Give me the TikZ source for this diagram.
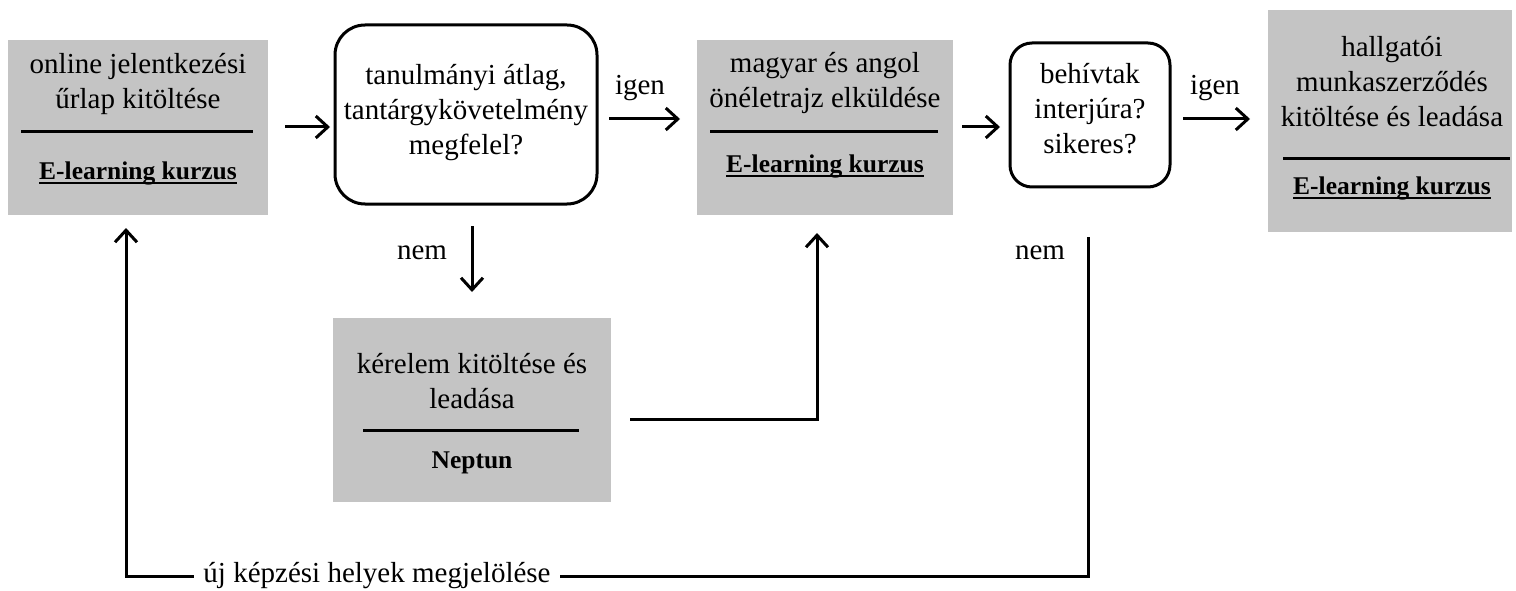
\documentclass[tikz,border=0pt]{standalone}
\usepackage{fontspec}
\setmainfont{Liberation Serif}
\usetikzlibrary{arrows.meta}
\definecolor{boxgray}{RGB}{196,196,196}
\newcommand\myul[1]{\setbox0\hbox{#1}\rlap{\rule[-5pt]{\wd0}{2pt}}\box0}
\begin{document}
\begin{tikzpicture}[x=1pt,y=-1pt,
  gbox/.style={fill=boxgray, inner sep=0pt, outer sep=0pt},
  rbox/.style={draw, line width=3pt, rounded corners=30pt, inner sep=0pt, outer sep=0pt},
  txt/.style={align=center, font=\fontsize{29}{35}\selectfont, inner sep=0pt},
  btxt/.style={align=center, font=\fontsize{25.5}{30}\selectfont\bfseries, inner sep=0pt},
  arr/.style={line width=3pt, -{Straight Barb[length=12pt,width=22pt,line width=3pt]}},
  sepline/.style={line width=3pt},
  ]
\useasboundingbox (0,0) rectangle (1516,591);
% boxes
\node[gbox, minimum width=260pt, minimum height=175pt] (b1) at (138,127.5) {};
\node[rbox, minimum width=262pt, minimum height=179pt] (b2) at (466,114.5) {};
\node[gbox, minimum width=256pt, minimum height=175pt] (b3) at (825,127.5) {};
\node[rbox, minimum width=160pt, minimum height=144pt, rounded corners=22pt] (b4) at (1090,115) {};
\node[gbox, minimum width=244pt, minimum height=222pt] (b5) at (1390,121) {};
\node[gbox, minimum width=278pt, minimum height=184pt] (b6) at (472,410) {};
% texts
\node[txt] (t1) at (138,84) {online jelentkezési\\űrlap kitöltése};
\draw[sepline] (21,132) -- (253,132);
\node[btxt] (e1) at (138,173) {\myul{E-learning kurzus}};
\node[txt] (t2) at (466,113) {tanulmányi átlag,\\tantárgykövetelmény\\megfelel?};
\node[txt] (t3) at (825,83) {magyar és angol\\önéletrajz elküldése};
\draw[sepline] (710,132) -- (938,132);
\node[btxt] (e3) at (825,166) {\myul{E-learning kurzus}};
\node[txt] (t4) at (1090,109) {behívtak\\interjúra?\\sikeres?};
\node[txt] (t5) at (1392,82) {hallgatói\\munkaszerződés\\kitöltése és leadása};
\draw[sepline] (1283,159) -- (1510,159);
\node[btxt] (e5) at (1392,188) {\myul{E-learning kurzus}};
\node[txt] (t6) at (472,381) {kérelem kitöltése és\\leadása};
\draw[sepline] (363,430) -- (579,430);
\node[btxt] (e6) at (472,463) {Neptun};
% labels
\node[txt] (igen1) at (640,88) {igen};
\node[txt] (igen2) at (1215,88) {igen};
\node[txt] (nem1) at (422,253) {nem};
\node[txt] (nem2) at (1040,253) {nem};
% connectors
\coordinate (c12a) at (285,127);
\coordinate (c12b) at (330,127);
\draw[arr] (c12a) -- (c12b);
\coordinate (c23a) at (609,119);
\coordinate (c23b) at (680,119);
\draw[arr] (c23a) -- (c23b);
\coordinate (c34a) at (962,127);
\coordinate (c34b) at (1000,127);
\draw[arr] (c34a) -- (c34b);
\coordinate (c45a) at (1183,119);
\coordinate (c45b) at (1250,119);
\draw[arr] (c45a) -- (c45b);
\coordinate (c26a) at (472,226);
\coordinate (c26b) at (472,292);
\draw[arr] (c26a) -- (c26b);
\coordinate (c63a) at (630,419);
\coordinate (c63b) at (817,233);
\draw[arr] (c63a) -| (c63b);
\coordinate (c41a) at (1088,237);
\coordinate (c41b) at (126,228);
\draw[arr] (c41a) -- (1088,576) -- (126,576) -- (c41b);
\node[fill=white, inner xsep=9pt, inner ysep=4pt, font=\fontsize{29}{35}\selectfont] (lbl) at (377,576) {új képzési helyek megjelölése};
\end{tikzpicture}
\end{document}
